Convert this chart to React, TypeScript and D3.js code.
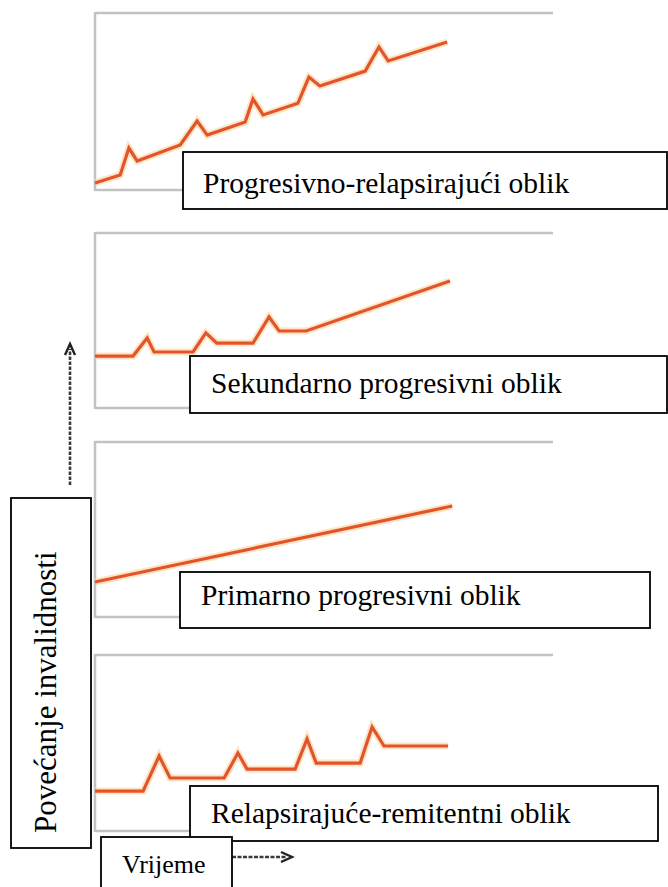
import React from 'react';
import * as d3 from 'd3';

// ---------- data ----------
const panelNames = [
  'Progresivno-relapsirajući oblik',
  'Sekundarno progresivni oblik',
  'Primarno progresivni oblik',
  'Relapsirajuće-remitentni oblik',
];

// time (0-100) vs disability (0-100)
const prTime = [0, 5.5, 7.4, 9.2, 18.6, 22.3, 24.5, 32.8, 34.5, 36.7, 44.3, 46.7, 49.1, 59, 62, 64, 76.9];
const prDisability = [4, 8.5, 23.7, 16.4, 25.4, 39, 31, 38.4, 51.4, 42.4, 49, 63.8, 58.8, 67.2, 80.8, 72.9, 83.6];

const spTime = [0, 8.3, 11.4, 12.9, 21.4, 24.2, 26.6, 34.5, 38, 40.2, 46.1, 77.5];
const spDisability = [29.7, 29.7, 40, 32, 32, 42.9, 37.1, 37.1, 52, 44, 44, 72.6];

const ppTime = [0, 78];
const ppDisability = [20, 63.4];

const rrTime = [0, 10.5, 14, 16.4, 28.2, 31.2, 33.2, 43.7, 46.3, 48.3, 57.9, 60.5, 63.1, 77.1];
const rrDisability = [22.7, 22.7, 42.6, 30.1, 30.1, 44.3, 35.2, 35.2, 52.3, 38.6, 38.6, 59.1, 48.3, 48.3];

const yAxisLabel = 'Povećanje invalidnosti';
const xAxisLabel = 'Vrijeme';

const seriesTimes = [prTime, spTime, ppTime, rrTime];
const seriesValues = [prDisability, spDisability, ppDisability, rrDisability];

// ---------- layout ----------
const W = 668;
const H = 887;
const frameLeft = 95;
const frameRight = 553;
const panelTop = [13, 233, 442, 655];
const panelBottom = [190, 408, 617, 831];
const boxes = [
  { x: 183, y: 152, w: 484, h: 57, tx: 203, ty: 193 },
  { x: 190, y: 356, w: 477, h: 57, tx: 211, ty: 393 },
  { x: 180, y: 572, w: 470, h: 56, tx: 201, ty: 605 },
  { x: 190, y: 786, w: 468, h: 55, tx: 211, ty: 823 },
];

const FONT = 'Liberation Serif';
const LINE = '#e2552c';
const FRAME = '#c2c2c2';

export default function App() {
  const x = d3.scaleLinear().domain([0, 100]).range([frameLeft, frameRight]);

  return (
    <svg
      width={W}
      height={H}
      style={{ position: 'absolute', left: 0, top: 0, background: '#fff' }}
    >
      <rect x={0} y={0} width={W} height={H} fill="#fff" />
      {panelNames.map((name, i) => {
        const y = d3.scaleLinear().domain([0, 100]).range([panelBottom[i], panelTop[i]]);
        const pts: [number, number][] = seriesTimes[i].map((t, k) => [t, seriesValues[i][k]]);
        const line = d3
          .line<[number, number]>()
          .x((d) => x(d[0]))
          .y((d) => y(d[1]));
        const d = line(pts) || '';
        return (
          <g key={i}>
            <line x1={frameLeft} x2={frameRight} y1={panelTop[i]} y2={panelTop[i]} stroke={FRAME} strokeWidth={2.5} />
            <line x1={frameLeft} x2={frameRight} y1={panelBottom[i]} y2={panelBottom[i]} stroke={FRAME} strokeWidth={2.5} />
            <line x1={frameLeft} x2={frameLeft} y1={panelTop[i] - 1} y2={panelBottom[i] + 1} stroke={FRAME} strokeWidth={2.5} />
            <path d={d} fill="none" stroke="#fbd29a" strokeOpacity={0.6} strokeWidth={7} strokeLinejoin="miter" />
            <path d={d} fill="none" stroke={LINE} strokeWidth={3.2} strokeLinejoin="miter" />
          </g>
        );
      })}
      {boxes.map((b, i) => (
        <g key={'b' + i}>
          <rect x={b.x} y={b.y} width={b.w} height={b.h} fill="#fff" stroke="#000" strokeWidth={1.8} />
          <text x={b.tx} y={b.ty} style={{ fontFamily: FONT }} fontSize={29.5} fill="#000">
            {panelNames[i]}
          </text>
        </g>
      ))}
      {/* y axis label */}
      <rect x={11} y={498} width={80} height={350} fill="#fff" stroke="#000" strokeWidth={1.8} />
      <text transform="translate(56,833) rotate(-90)" style={{ fontFamily: FONT }} fontSize={31} fill="#000">
        {yAxisLabel}
      </text>
      {/* vertical dashed arrow */}
      <line x1={70} x2={70} y1={485} y2={349} stroke="#3a3a3a" strokeWidth={2.6} strokeDasharray="3.5 1.5" />
      <path d="M65,355 L70,344 L75,355" fill="none" stroke="#222" strokeWidth={2.4} />
      {/* x axis label */}
      <line x1={232} x2={287} y1={857} y2={857} stroke="#3a3a3a" strokeWidth={2.6} strokeDasharray="4 1.5" />
      <path d="M281,852 L292,857 L281,862" fill="none" stroke="#222" strokeWidth={2.4} />
      <rect x={101} y={837} width={131} height={60} fill="#fff" stroke="#000" strokeWidth={1.8} />
      <text x={122} y={873} style={{ fontFamily: FONT }} fontSize={26} fill="#000">
        {xAxisLabel}
      </text>
    </svg>
  );
}
